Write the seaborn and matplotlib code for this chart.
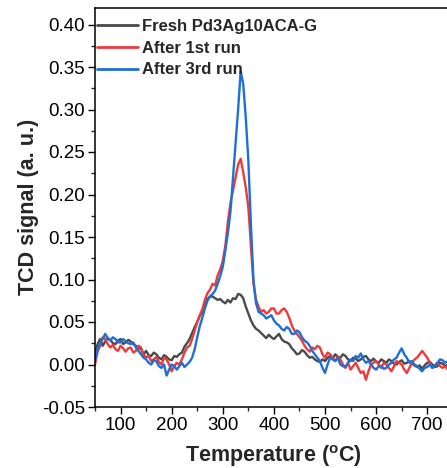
import numpy as np
import pandas as pd
import matplotlib
matplotlib.use("Agg")
import matplotlib.pyplot as plt
import seaborn as sns
from matplotlib.ticker import MultipleLocator

# ---------------- data (5 degC steps) ----------------
temperature = list(range(50, 741, 5))

fresh = [0.012, 0.024, 0.030, 0.022, 0.027, 0.031, 0.029, 0.025, 0.024, 0.028,
         0.030, 0.024, 0.026, 0.029, 0.027, 0.024, 0.022, 0.020, 0.018, 0.012,
         0.016, 0.011, 0.010, 0.014, 0.012, 0.008, 0.006, 0.011, 0.009, 0.006,
         0.005, 0.010, 0.009, 0.012, 0.014, 0.021, 0.025, 0.030, 0.037, 0.044,
         0.050, 0.057, 0.062, 0.070, 0.077, 0.080, 0.080, 0.078, 0.076, 0.077,
         0.074, 0.072, 0.076, 0.073, 0.078, 0.077, 0.083, 0.082, 0.078, 0.068,
         0.060, 0.052, 0.046, 0.042, 0.040, 0.037, 0.034, 0.031, 0.035, 0.032,
         0.030, 0.033, 0.036, 0.030, 0.027, 0.026, 0.024, 0.019, 0.016, 0.012,
         0.013, 0.017, 0.015, 0.011, 0.008, 0.009, 0.006, 0.004, 0.003, 0.006,
         0.004, 0.008, 0.010, 0.007, 0.012, 0.009, 0.008, 0.012, 0.010, 0.006,
         0.004, 0.008, 0.007, 0.004, 0.006, 0.009, 0.010, 0.006, 0.004, 0.007,
         0.003, 0.002, 0.006, 0.004, 0.002, 0.006, 0.004, 0.001, 0.000, 0.003,
         0.005, 0.001, 0.002, 0.004, 0.001, -0.001, -0.003, -0.001, -0.005, -0.001,
         0.002, 0.003, 0.000, -0.003, -0.002, 0.002, 0.001, -0.002, 0.000]

run1 = [0.000, 0.015, 0.022, 0.032, 0.030, 0.024, 0.020, 0.023, 0.018, 0.016,
        0.022, 0.019, 0.015, 0.019, 0.020, 0.014, 0.016, 0.022, 0.020, 0.012,
        0.008, 0.010, 0.004, 0.006, 0.009, 0.003, 0.000, 0.008, 0.006, 0.000,
        -0.008, -0.002, 0.002, 0.000, 0.006, 0.014, 0.020, 0.022, 0.030, 0.040,
        0.050, 0.058, 0.065, 0.076, 0.084, 0.088, 0.095, 0.093, 0.105, 0.112,
        0.122, 0.140, 0.168, 0.190, 0.205, 0.220, 0.235, 0.242, 0.226, 0.208,
        0.185, 0.140, 0.095, 0.076, 0.068, 0.062, 0.064, 0.060, 0.062, 0.066,
        0.066, 0.060, 0.060, 0.064, 0.066, 0.062, 0.055, 0.046, 0.040, 0.036,
        0.032, 0.028, 0.022, 0.018, 0.015, 0.020, 0.018, 0.022, 0.020, 0.012,
        0.008, 0.014, 0.012, 0.008, 0.004, 0.009, 0.006, 0.000, -0.004, 0.002,
        -0.006, -0.002, 0.002, -0.004, -0.010, -0.008, -0.018, -0.008, 0.000, 0.002,
        0.004, 0.000, -0.004, 0.002, 0.000, -0.004, -0.008, -0.002, 0.004, 0.002,
        0.000, -0.006, -0.010, -0.004, 0.002, 0.006, 0.008, 0.012, 0.016, 0.012,
        0.008, 0.002, -0.004, -0.001, 0.002, -0.002, -0.004, -0.002, -0.006]

run3 = [0.005, 0.018, 0.025, 0.030, 0.036, 0.031, 0.028, 0.032, 0.030, 0.026,
        0.026, 0.030, 0.027, 0.025, 0.024, 0.026, 0.020, 0.016, 0.012, 0.008,
        0.006, 0.002, 0.000, 0.005, 0.004, -0.002, -0.004, 0.000, -0.013, -0.006,
        0.000, -0.002, -0.006, -0.002, 0.002, -0.003, 0.000, 0.003, 0.008, 0.018,
        0.032, 0.045, 0.055, 0.066, 0.075, 0.080, 0.083, 0.087, 0.095, 0.104,
        0.115, 0.134, 0.155, 0.180, 0.220, 0.260, 0.300, 0.345, 0.330, 0.290,
        0.240, 0.165, 0.100, 0.072, 0.062, 0.060, 0.058, 0.054, 0.056, 0.058,
        0.052, 0.048, 0.046, 0.042, 0.040, 0.044, 0.042, 0.036, 0.036, 0.040,
        0.038, 0.032, 0.028, 0.026, 0.022, 0.016, 0.012, 0.008, 0.004, -0.004,
        -0.010, 0.000, 0.008, 0.006, 0.004, 0.008, 0.000, -0.002, -0.003, 0.002,
        0.006, 0.004, 0.010, 0.008, 0.013, 0.006, 0.002, 0.004, 0.000, -0.004,
        -0.006, -0.002, -0.002, -0.005, -0.004, 0.000, 0.002, 0.006, 0.008, 0.014,
        0.019, 0.012, 0.008, 0.002, 0.004, 0.000, -0.002, -0.005, -0.008, -0.004,
        -0.003, 0.000, -0.004, -0.001, 0.002, 0.006, 0.005, 0.002, 0.004]

labels = ["Fresh Pd3Ag10ACA-G", "After 1st run", "After 3rd run"]
colors = ["#4a4a4a", "#ee3a3a", "#1f6fd8"]
y_ticks = [-0.05, 0.00, 0.05, 0.10, 0.15, 0.20, 0.25, 0.30, 0.35, 0.40]
x_ticks = [100, 200, 300, 400, 500, 600, 700]

# ---------------- figure ----------------
sns.set_style("ticks")
plt.rcParams["font.family"] = ["Liberation Sans", "DejaVu Sans"]
plt.rcParams["mathtext.fontset"] = "custom"
plt.rcParams["mathtext.rm"] = "Liberation Sans:bold"
plt.rcParams["mathtext.bf"] = "Liberation Sans:bold"

df = pd.concat([
    pd.DataFrame({"T": temperature, "signal": vals, "series": lab})
    for vals, lab in zip([fresh, run1, run3], labels)
])

fig = plt.figure(figsize=(4.47, 4.68), dpi=100)
ax = fig.add_axes([95 / 447, 1 - 407 / 468, 357.8 / 447, (407 - 7.5) / 468])

sns.lineplot(data=df, x="T", y="signal", hue="series", hue_order=labels,
             palette=colors, linewidth=1.7, ax=ax, sort=False, estimator=None)

ax.set_xlim(50, 750)
ax.set_ylim(-0.05, 0.42)
ax.set_xticks(x_ticks)
ax.set_yticks(y_ticks)
ax.set_yticklabels([f"{v:.2f}" for v in y_ticks])
ax.xaxis.set_minor_locator(MultipleLocator(50))
ax.yaxis.set_minor_locator(MultipleLocator(0.025))

ax.tick_params(axis="both", which="major", direction="out", length=5, width=1,
               labelsize=13.5, pad=2, colors="black")
ax.tick_params(axis="both", which="minor", direction="out", length=3, width=1)
for sp in ax.spines.values():
    sp.set_linewidth(1.1)
    sp.set_color("black")

ax.set_xlabel(r"Temperature ($^{\mathbf{o}}$C)", fontsize=15.5, fontweight="bold", labelpad=7)
ax.set_ylabel("TCD signal (a. u.)", fontsize=15.5, fontweight="bold", labelpad=2)

leg = ax.legend(loc="upper left", bbox_to_anchor=(0, 0.975), frameon=False,
                borderaxespad=0, borderpad=0.1, handlelength=2.45,
                handletextpad=0.25, labelspacing=0.4,
                prop={"size": 12, "weight": "bold"})
for line in leg.get_lines():
    line.set_linewidth(2.0)

fig.savefig("out.png", dpi=100)
